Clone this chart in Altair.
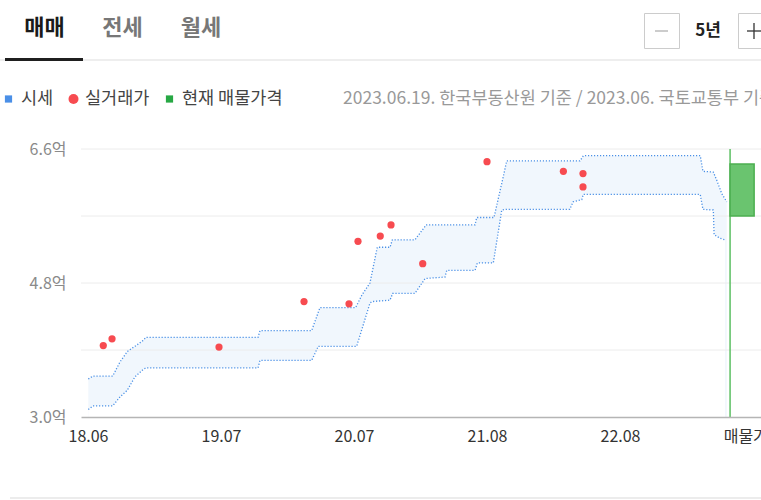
import altair as alt
import pandas as pd

FONT = "Noto Sans CJK KR"

# ---- 시세 band (upper / lower bound), x in month-index units (18.06 = 0) ----
upper_pos = [0.03, 0.45, 2.23, 2.89, 3.55, 4.24, 4.99, 5.23, 15.34, 15.52, 20.18, 20.93,
             24.15, 24.72, 25.44, 26.10, 27.25, 27.46, 29.50, 30.41, 30.50, 34.92, 35.07,
             36.63, 37.47, 37.78, 44.39, 44.69, 55.24, 55.48, 56.42, 56.73, 57.18, 57.63]
upper_val = [3.51, 3.55, 3.55, 3.74, 3.88, 3.95, 4.03, 4.07, 4.07, 4.16, 4.16, 4.47,
             4.47, 4.64, 4.80, 5.28, 5.28, 5.38, 5.38, 5.56, 5.58, 5.58, 5.68,
             5.68, 6.23, 6.44, 6.44, 6.51, 6.51, 6.30, 6.29, 6.18, 6.00, 5.89]
lower_pos = [0.03, 0.45, 2.23, 2.89, 3.55, 4.24, 4.99, 5.23, 15.34, 15.52, 20.18, 20.78,
             24.24, 25.44, 25.60, 27.25, 27.49, 29.50, 30.41, 32.21, 32.37, 34.92, 35.13,
             36.57, 37.33, 37.78, 43.47, 43.77, 44.55, 44.69, 55.24, 55.48, 56.42, 56.49,
             57.03, 57.48]
lower_val = [3.10, 3.15, 3.15, 3.27, 3.36, 3.54, 3.64, 3.66, 3.66, 3.76, 3.76, 3.95,
             3.95, 4.53, 4.55, 4.57, 4.66, 4.66, 4.86, 4.88, 4.97, 4.97, 5.07,
             5.07, 5.78, 5.79, 5.79, 5.89, 5.92, 5.99, 5.99, 5.79, 5.78, 5.45,
             5.40, 5.38]

# ---- 실거래가 (actual deals) ----
deal_pos = [1.38, 2.17, 11.82, 19.49, 23.55, 24.36, 26.37, 27.34, 30.20, 36.00, 42.89, 44.66, 44.66]
deal_val = [3.96, 4.05, 3.94, 4.55, 4.52, 5.36, 5.43, 5.58, 5.06, 6.43, 6.30, 6.27, 6.09]

# ---- 현재 매물가격 (listing range) ----
listing_pos = [57.93]
listing_end = [60.10]
listing_low = [5.70]
listing_high = [6.40]

# ---- axes ----
tick_pos = [0, 12, 24, 36, 48, 59.3]
tick_labels = ["18.06", "19.07", "20.07", "21.08", "22.08", "매물가"]
grid_vals = [3.9, 4.8, 5.7, 6.6]
label_vals = [3.0, 4.8, 6.6]
y_min, y_max = 3.0, 6.6

W, H = 680, 268

upper_df = pd.DataFrame({"pos": upper_pos, "val": upper_val})
lower_df = pd.DataFrame({"pos": lower_pos, "val": lower_val})
deal_df = pd.DataFrame({"pos": deal_pos, "val": deal_val})
listing_df = pd.DataFrame({"pos": listing_pos, "end": listing_end,
                           "low": listing_low, "high": listing_high,
                           "ymin": [y_min], "ymax": [y_max]})
grid_df = pd.DataFrame({"g": grid_vals})

xs = alt.Scale(domain=[-0.63, 60.72], nice=False, zero=False)
ys = alt.Scale(domain=[y_min, y_max], nice=False, zero=False)

label_expr = " : ".join(
    f"datum.value == {p} ? '{t}'" for p, t in zip(tick_pos, tick_labels)
) + " : ''"

xaxis = alt.Axis(values=tick_pos, labelExpr=label_expr, grid=False, ticks=False, tickSize=0,
                 domainColor="#b5b5b5", domainWidth=1.5, labelFont=FONT, labelFontSize=16,
                 labelColor="#333333", labelPadding=11, labelFlush=False, labelOverlap=False,
                 zindex=1, title=None)
yaxis = alt.Axis(values=label_vals, labelExpr="format(datum.value, '.1f') + '억'",
                 grid=False, ticks=False, tickSize=0, domain=False, labelFont=FONT,
                 labelFontSize=16, labelColor="#8a8a8a", labelPadding=15, title=None)


def X(field):
    return alt.X(field, type="quantitative", scale=xs, axis=xaxis)


def Y(field):
    return alt.Y(field, type="quantitative", scale=ys, axis=yaxis)


upper_area = alt.Chart(upper_df).mark_area(color="#f1f7fd", interpolate="linear").encode(
    x=X("pos"), y=Y("val"), y2=alt.datum(y_min))
lower_area = alt.Chart(lower_df).mark_area(color="#ffffff", interpolate="linear").encode(
    x=X("pos"), y=Y("val"), y2=alt.datum(y_min))
grid = alt.Chart(grid_df).mark_rule(color="#ececec", strokeWidth=1).encode(y=Y("g"))
upper_line = alt.Chart(upper_df).mark_line(color="#4a90e6", strokeWidth=1.3,
                                           strokeDash=[1.2, 1.8]).encode(x=X("pos"), y=Y("val"))
lower_line = alt.Chart(lower_df).mark_line(color="#4a90e6", strokeWidth=1.3,
                                           strokeDash=[1.2, 1.8]).encode(x=X("pos"), y=Y("val"))
listing_rule = alt.Chart(listing_df).mark_rule(color="#5cbf63", strokeWidth=1.5).encode(
    x=X("pos"), y=Y("ymin"), y2="ymax")
listing_box = alt.Chart(listing_df).mark_rect(fill="#6ac46f", stroke="#4caf50",
                                              strokeWidth=1.5).encode(
    x=X("pos"), x2="end", y=Y("low"), y2="high")
deals = alt.Chart(deal_df).mark_circle(color="#f74b50", size=52, opacity=1).encode(
    x=X("pos"), y=Y("val"))

one = alt.Data(values=[{}])
OX, OY = 81, 149  # plot-area origin in page pixels


def txt(text, px, py, size=16, color="#333333", weight="normal", align="left"):
    return alt.Chart(one).mark_text(text=text, font=FONT, fontSize=size, color=color,
                                    fontWeight=weight, align=align, baseline="middle").encode(
        x=alt.value(px - OX), y=alt.value(py - OY))


def hline(x1, x2, py, color, width):
    return alt.Chart(one).mark_rule(color=color, strokeWidth=width).encode(
        x=alt.value(x1 - OX), x2=alt.value(x2 - OX), y=alt.value(py - OY))


def vline(px, y1, y2, color, width):
    return alt.Chart(one).mark_rule(color=color, strokeWidth=width).encode(
        x=alt.value(px - OX), y=alt.value(y1 - OY), y2=alt.value(y2 - OY))


def box(x1, x2, y1, y2):
    return alt.Chart(one).mark_rect(fill="#ffffff", stroke="#cccccc", strokeWidth=1).encode(
        x=alt.value(x1 - OX), x2=alt.value(x2 - OX), y=alt.value(y1 - OY), y2=alt.value(y2 - OY))


def sym(shape, px, py, size, color):
    return alt.Chart(one).mark_point(shape=shape, size=size, filled=True, color=color,
                                     opacity=1).encode(x=alt.value(px - OX), y=alt.value(py - OY))


LEG = 17.5
deco = [
    # tabs
    txt("매매", 44.5, 28, 22, "#1a1a1a", "bold", "center"),
    txt("전세", 122.5, 28, 22, "#777777", "bold", "center"),
    txt("월세", 201, 28, 22, "#777777", "bold", "center"),
    hline(0, 761, 60, "#dddddd", 1.2),
    hline(5, 83, 59.5, "#1f1f1f", 3),
    # period buttons
    box(644.5, 679.5, 13.5, 48.5),
    hline(655, 668, 31, "#bbbbbb", 1.5),
    txt("5년", 708, 31, 17, "#222222", "bold", "center"),
    box(738.5, 800, 13.5, 48.5),
    hline(747, 770, 31, "#333333", 1.3),
    vline(754, 23, 39, "#333333", 1.3),
    # legend
    sym("square", 8.5, 99, 52, "#4a8fe7"),
    txt("시세", 21, 99, LEG, "#444444"),
    sym("circle", 73.5, 99, 100, "#f74b50"),
    txt("실거래가", 85, 99, LEG, "#444444"),
    sym("square", 169.5, 99, 52, "#27a844"),
    txt("현재 매물가격", 182, 99, LEG, "#444444"),
    txt("2023.06.19. 한국부동산원 기준 / 2023.06. 국토교통부 기준", 343, 99, LEG, "#999999"),
    # bottom separator
    hline(10, 761, 498, "#e6e6e6", 1.5),
]

chart = alt.layer(
    upper_area, lower_area, grid, upper_line, lower_line,
    listing_rule, listing_box, deals, *deco
).properties(
    width=W, height=H,
    padding={"left": OX, "top": OY, "right": 0, "bottom": 500 - OY - H},
    autosize=alt.AutoSizeParams(type="none"),
).configure(font=FONT).configure_view(stroke=None)

chart.save("out.html", embed_options={"renderer": "svg", "actions": False})
